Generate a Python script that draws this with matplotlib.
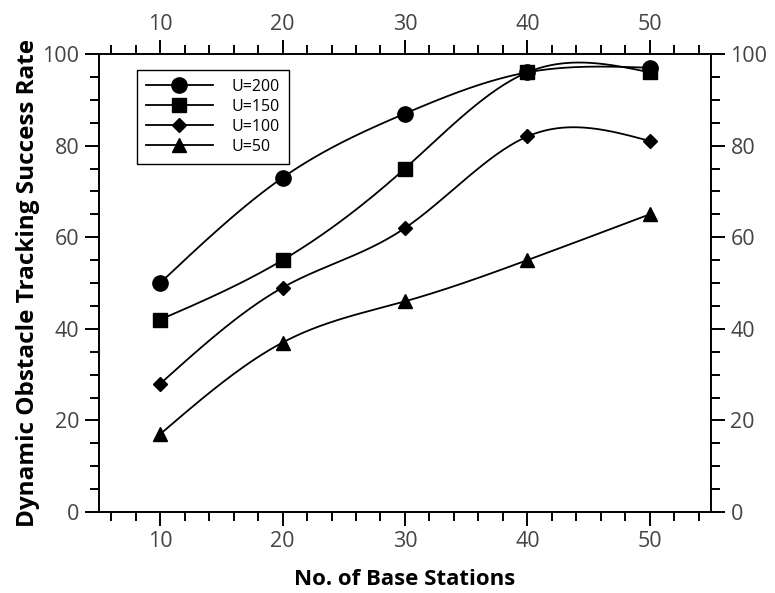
import numpy as np
import matplotlib
matplotlib.use("Agg")
import matplotlib.pyplot as plt
from matplotlib.ticker import MultipleLocator

plt.rcParams['font.family'] = ['Open Sans', 'DejaVu Sans']

# -----------------------------
# data
# -----------------------------
stations = [10, 20, 30, 40, 50]
u200 = [50, 73, 87, 96, 97]
u150 = [42, 55, 75, 96, 96]
u100 = [28, 49, 62, 82, 81]
u50 = [17, 37, 46, 55, 65]

series = [
    ("U=200", u200, "o", 11),
    ("U=150", u150, "s", 9.5),
    ("U=100", u100, "D", 7.5),
    ("U=50", u50, "^", 10.5),
]


def natural_spline(x, y, n=300):
    # natural cubic spline through the points, used only for drawing the curve
    x = np.asarray(x, float)
    y = np.asarray(y, float)
    k = len(x)
    h = np.diff(x)
    A = np.zeros((k, k))
    b = np.zeros(k)
    A[0, 0] = 1
    A[-1, -1] = 1
    for i in range(1, k - 1):
        A[i, i - 1] = h[i - 1]
        A[i, i] = 2 * (h[i - 1] + h[i])
        A[i, i + 1] = h[i]
        b[i] = 6 * ((y[i + 1] - y[i]) / h[i] - (y[i] - y[i - 1]) / h[i - 1])
    M = np.linalg.solve(A, b)
    xs = np.linspace(x[0], x[-1], n)
    idx = np.clip(np.searchsorted(x, xs) - 1, 0, k - 2)
    x0, x1 = x[idx], x[idx + 1]
    hh = x1 - x0
    t0 = x1 - xs
    t1 = xs - x0
    ys = (M[idx] * t0 ** 3 / (6 * hh) + M[idx + 1] * t1 ** 3 / (6 * hh)
          + (y[idx] / hh - M[idx] * hh / 6) * t0
          + (y[idx + 1] / hh - M[idx + 1] * hh / 6) * t1)
    return xs, ys


fig = plt.figure(figsize=(7.75, 5.93), dpi=100)
ax = fig.add_axes([0.1277, 0.1366, 0.7897, 0.7723])

handles = []
for label, vals, marker, ms in series:
    xs, ys = natural_spline(stations, vals)
    ax.plot(xs, ys, color="black", lw=1.3, zorder=2)
    ax.plot(stations, vals, linestyle="none", marker=marker, ms=ms,
            color="black", zorder=3)
    h, = ax.plot([], [], color="black", lw=1.3, marker=marker, ms=ms)
    h.set_label(label)
    handles.append(h)

#----------------------------------------
# axes
#----------------------------------------
ax.set_xlim(5, 55)
ax.set_ylim(0, 100)
ax.xaxis.set_major_locator(MultipleLocator(10))
ax.xaxis.set_minor_locator(MultipleLocator(2))
ax.yaxis.set_major_locator(MultipleLocator(20))
ax.yaxis.set_minor_locator(MultipleLocator(5))

for s in ax.spines.values():
    s.set_linewidth(1.4)

ax.tick_params(which="both", direction="out", top=True, right=True,
               labeltop=True, labelright=True, width=1.4,
               colors="black", labelcolor="#444444", labelsize=15.5)
ax.tick_params(which="major", length=10, pad=4)
ax.tick_params(which="minor", length=6.5)

ax.set_xlabel("No. of Base Stations", fontsize=16, fontweight="bold",
              labelpad=12)
ax.set_ylabel("Dynamic Obstacle Tracking Success Rate", fontsize=17.5,
              fontweight="bold", labelpad=2)

leg = ax.legend(handles=handles, loc="upper left",
                bbox_to_anchor=(0.062, 0.965), borderaxespad=0,
                fontsize=11.5, handlelength=4.2, fancybox=False,
                edgecolor="black", framealpha=1, borderpad=0.55,
                labelspacing=0.25, handletextpad=1.2)
leg.get_frame().set_linewidth(1.0)

plt.savefig("out.png", dpi=100)
